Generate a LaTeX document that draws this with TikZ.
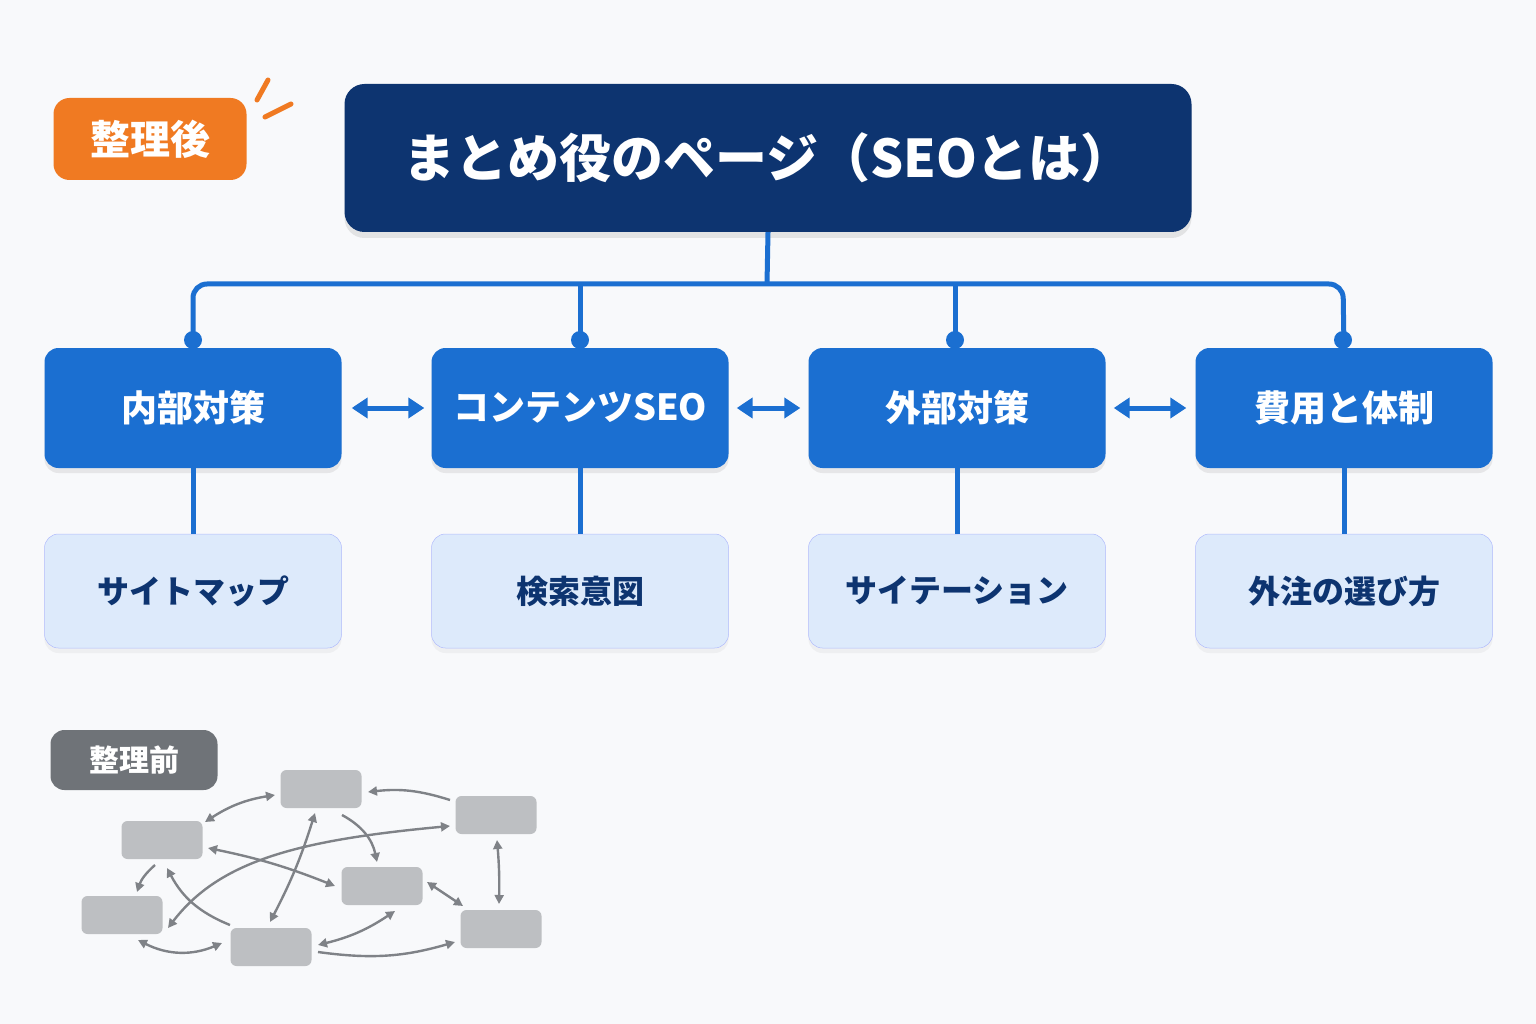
\documentclass[tikz,border=0pt]{standalone}
\usepackage{fontspec}
\setmainfont{Noto Sans CJK JP}
\usetikzlibrary{shadows,arrows.meta}
\definecolor{navy}{HTML}{0D3470}
\definecolor{blu}{HTML}{1B6FD1}
\definecolor{lite}{HTML}{DDEAFB}
\definecolor{ora}{HTML}{F07A22}
\definecolor{gl}{HTML}{6F7378}
\definecolor{gb}{HTML}{BDBFC2}
\definecolor{ga}{HTML}{7F8287}
\definecolor{bg}{HTML}{F8F9FB}
\begin{document}
\begin{tikzpicture}[x=1pt,y=-1pt,
 blue/.style={draw=none,fill=blu,rounded corners=14,minimum width=297,minimum height=120,text=white,font=\bfseries\fontsize{36}{40}\selectfont,drop shadow={shadow xshift=0,shadow yshift=5,opacity=.15}},
 light/.style={draw=lite!80!blue,line width=.5,fill=lite,rounded corners=14,minimum width=297,minimum height=114,text=navy,font=\bfseries\fontsize{32}{36}\selectfont,drop shadow={shadow xshift=0,shadow yshift=5,opacity=.08}},
 conn/.style={draw=blu,line width=5},
 dbl/.style={draw=blu,line width=5,<->,>={Triangle[length=16,width=20]}},
 gbox/.style={fill=gb,rounded corners=6,minimum width=81,minimum height=38},
 ga/.style={draw=ga,line width=2.4,>={Triangle[length=9,width=9]}}]
\fill[bg] (0,0) rectangle (1536,1024);
\useasboundingbox (0,0) rectangle (1536,1024);
% title
\node[fill=navy,rounded corners=20,minimum width=847,minimum height=148,text=white,font=\bfseries\fontsize{52}{58}\selectfont,drop shadow={shadow xshift=0,shadow yshift=6,opacity=.18}] (t) at (768,158) {まとめ役のページ（SEOとは）};
\node[fill=ora,rounded corners=16,minimum width=193,minimum height=82,text=white,font=\bfseries\fontsize{40}{44}\selectfont] (o) at (150,139) {整理後};
\draw[ora,line width=5,line cap=round] (257,100)--(268,80) (265,117)--(291,104);
% blue boxes
\node[blue] (b1) at (193,408) {内部対策};
\node[blue] (b2) at (580,408) {コンテンツSEO};
\node[blue] (b3) at (957,408) {外部対策};
\node[blue] (b4) at (1344,408) {費用と体制};
\node[light] (l1) at (193,591) {サイトマップ};
\node[light] (l2) at (580,591) {検索意図};
\node[light] (l3) at (957,591) {サイテーション};
\node[light] (l4) at (1344,591) {外注の選び方};
\coordinate (h) at (767,284);
\draw[conn] (t.south) -- (h);
\draw[conn,rounded corners=14] (b1.north) -- (193,284) -- (1343,284) -- (b4.north);
\draw[conn] (580,284) -- (b2.north);
\draw[conn] (955,284) -- (955,348);
\foreach \x in {193,580,955,1343} \fill[blu] (\x,340) circle (9);
\foreach \i in {1,2,3,4} \draw[conn] (b\i.south) -- (l\i.north);
\draw[dbl] ([xshift=10]b1.east) -- ([xshift=-7]b2.west);
\draw[dbl] ([xshift=8]b2.east) -- ([xshift=-8]b3.west);
\draw[dbl] ([xshift=8]b3.east) -- ([xshift=-9]b4.west);
% before
\node[fill=gl,rounded corners=14,minimum width=167,minimum height=60,text=white,font=\bfseries\fontsize{30}{34}\selectfont] (g) at (134,760) {整理前};
\node[gbox] (A) at (321,789) {};
\node[gbox] (B) at (162,840) {};
\node[gbox] (C) at (496,815) {};
\node[gbox] (D) at (382,886) {};
\node[gbox] (E) at (122,915) {};
\node[gbox] (F) at (271,947) {};
\node[gbox] (G) at (501,929) {};
\draw[ga,<->] (205,822) to[bend left=12] (275,795);
\draw[ga,->] (450,800) to[bend right=12] (368,792);
\draw[ga,->] (342,815) to[bend left=25] (377,862);
\draw[ga,<->] (208,848) to[bend left=5] (335,886);
\draw[ga,<->] (450,826) .. controls (300,840) and (220,860) .. (168,928);
\draw[ga,<->] (315,813) to[bend left=5] (270,922);
\draw[ga,->] (155,865) to[bend right=15] (137,892);
\draw[ga,->] (230,925) to[bend left=20] (167,868);
\draw[ga,<->] (427,882) -- (463,906);
\draw[ga,<->] (497,840) to[bend left=3] (499,904);
\draw[ga,<->] (318,945) to[bend right=10] (395,911);
\draw[ga,<->] (138,940) to[bend right=25] (222,943);
\draw[ga,->] (318,952) to[bend right=12] (455,942);
\end{tikzpicture}
\end{document}
